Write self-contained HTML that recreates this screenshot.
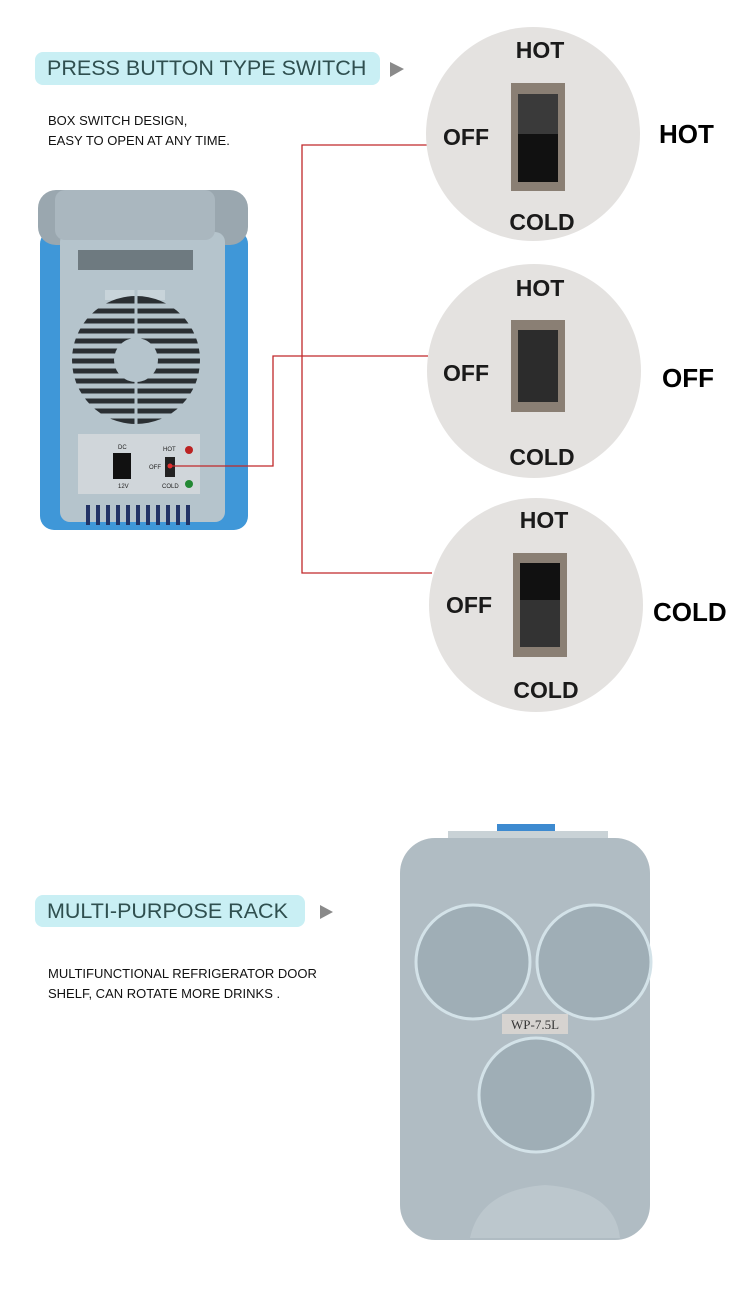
<!DOCTYPE html>
<html><head><meta charset="utf-8"><style>
body{margin:0;background:#fff;width:750px;height:1296px;overflow:hidden;position:relative;font-family:"Liberation Sans",sans-serif}
.ban{position:absolute;background:#c9eff4;border-radius:8px;color:#2f4f4f;font-size:21.5px;line-height:33px;padding-left:12px}
.txt{position:absolute;font-size:13px;color:#111;line-height:20px}
.big{position:absolute;font-weight:bold;font-size:26px;color:#000}
</style></head><body>
<div class="ban" style="left:35px;top:52px;width:333px;height:33px">PRESS BUTTON TYPE SWITCH</div>
<div class="txt" style="left:48px;top:111px">BOX SWITCH DESIGN,<br>EASY TO OPEN AT ANY TIME.</div>
<div class="ban" style="left:35px;top:895px;width:258px;height:32px;line-height:32px">MULTI-PURPOSE RACK</div>
<div class="txt" style="left:48px;top:964px">MULTIFUNCTIONAL REFRIGERATOR DOOR<br>SHELF, CAN ROTATE MORE DRINKS .</div>
<div class="big" style="left:659px;top:119px">HOT</div>
<div class="big" style="left:662px;top:363px">OFF</div>
<div class="big" style="left:653px;top:597px">COLD</div>
<svg width="750" height="1296" style="position:absolute;left:0;top:0" xmlns="http://www.w3.org/2000/svg">
<polygon points="390,62 404,69 390,77" fill="#8a8a8a"/>
<polygon points="320,905 333,912 320,919" fill="#8a8a8a"/>
<!-- fridge 1 -->
<rect x="40" y="230" width="208" height="300" rx="14" fill="#3f97d8"/>
<rect x="38" y="190" width="210" height="55" rx="18" fill="#9aa7af"/>
<rect x="60" y="232" width="165" height="290" rx="10" fill="#b5c4cc"/>
<rect x="55" y="190" width="160" height="50" rx="10" fill="#aab7bf"/>
<rect x="78" y="250" width="115" height="20" fill="#6e7a80"/>
<rect x="105" y="290" width="60" height="10" fill="#c8d4da"/>
<circle cx="136" cy="360" r="64" fill="#2a2f33"/>
<g stroke="#b5c4cc" stroke-width="5">
<line x1="70" y1="306" x2="200" y2="306"/><line x1="70" y1="316" x2="200" y2="316"/><line x1="70" y1="326" x2="200" y2="326"/><line x1="70" y1="336" x2="200" y2="336"/><line x1="70" y1="346" x2="200" y2="346"/><line x1="70" y1="356" x2="200" y2="356"/><line x1="70" y1="366" x2="200" y2="366"/><line x1="70" y1="376" x2="200" y2="376"/><line x1="70" y1="386" x2="200" y2="386"/><line x1="70" y1="396" x2="200" y2="396"/><line x1="70" y1="406" x2="200" y2="406"/><line x1="70" y1="416" x2="200" y2="416"/>
<line x1="136" y1="290" x2="136" y2="430" stroke-width="3"/></g>
<circle cx="136" cy="360" r="22" fill="#b5c4cc"/>
<rect x="78" y="434" width="122" height="60" fill="#d0d6da"/>
<rect x="113" y="453" width="18" height="26" fill="#111"/>
<rect x="165" y="457" width="10" height="20" fill="#222"/>
<circle cx="189" cy="450" r="4" fill="#b22"/><circle cx="189" cy="484" r="4" fill="#283"/>
<g font-size="6" fill="#222"><text x="118" y="449">DC</text><text x="118" y="488">12V</text><text x="163" y="451">HOT</text><text x="149" y="469">OFF</text><text x="162" y="488">COLD</text></g>
<g stroke="#223366" stroke-width="4"><line x1="88" y1="505" x2="88" y2="525"/><line x1="98" y1="505" x2="98" y2="525"/><line x1="108" y1="505" x2="108" y2="525"/><line x1="118" y1="505" x2="118" y2="525"/><line x1="128" y1="505" x2="128" y2="525"/><line x1="138" y1="505" x2="138" y2="525"/><line x1="148" y1="505" x2="148" y2="525"/><line x1="158" y1="505" x2="158" y2="525"/><line x1="168" y1="505" x2="168" y2="525"/><line x1="178" y1="505" x2="178" y2="525"/><line x1="188" y1="505" x2="188" y2="525"/></g>
<!-- red connectors -->
<g stroke="#c0282a" stroke-width="1.3" fill="none">
<polyline points="428,145 302,145 302,573 432,573"/>
<polyline points="428,356 273,356 273,466 170,466"/>
</g>
<circle cx="170" cy="466" r="2.5" fill="#e03030"/>
<!-- circles -->
<g font-weight="bold" fill="#1a1a1a" font-size="23" text-anchor="middle">
<circle cx="533" cy="134" r="107" fill="#e4e2e0"/>
<rect x="511" y="83" width="54" height="108" fill="#8a7f74"/><rect x="518" y="94" width="40" height="88" fill="#111"/><rect x="518" y="94" width="40" height="40" fill="#3a3a3a"/>
<text x="540" y="58">HOT</text><text x="466" y="145">OFF</text><text x="542" y="230">COLD</text>
<circle cx="534" cy="371" r="107" fill="#e4e2e0"/>
<rect x="511" y="320" width="54" height="92" fill="#8a7f74"/><rect x="518" y="330" width="40" height="72" fill="#2c2c2c"/>
<text x="540" y="296">HOT</text><text x="466" y="381">OFF</text><text x="542" y="465">COLD</text>
<circle cx="536" cy="605" r="107" fill="#e4e2e0"/>
<rect x="513" y="553" width="54" height="104" fill="#8a7f74"/><rect x="520" y="563" width="40" height="84" fill="#111"/><rect x="520" y="600" width="40" height="47" fill="#333"/>
<text x="544" y="528">HOT</text><text x="469" y="613">OFF</text><text x="546" y="698">COLD</text>
</g>
<!-- fridge 2 -->
<rect x="497" y="824" width="58" height="14" fill="#3d8ad0"/>
<rect x="448" y="831" width="160" height="10" fill="#c9d2d6"/>
<rect x="400" y="838" width="250" height="402" rx="35" fill="#b0bcc3"/>
<path d="M470,1238 Q480,1190 545,1185 Q615,1190 620,1238 Z" fill="#bcc7cd"/>
<g fill="#9faeb6" stroke="#d3e2e8" stroke-width="3">
<circle cx="473" cy="962" r="57"/><circle cx="594" cy="962" r="57"/><circle cx="536" cy="1095" r="57"/></g>
<rect x="502" y="1014" width="66" height="20" fill="#d6d3d0"/>
<text x="535" y="1029" text-anchor="middle" font-family="Liberation Serif,serif" font-size="13" fill="#333">WP-7.5L</text>
</svg>
</body></html>
